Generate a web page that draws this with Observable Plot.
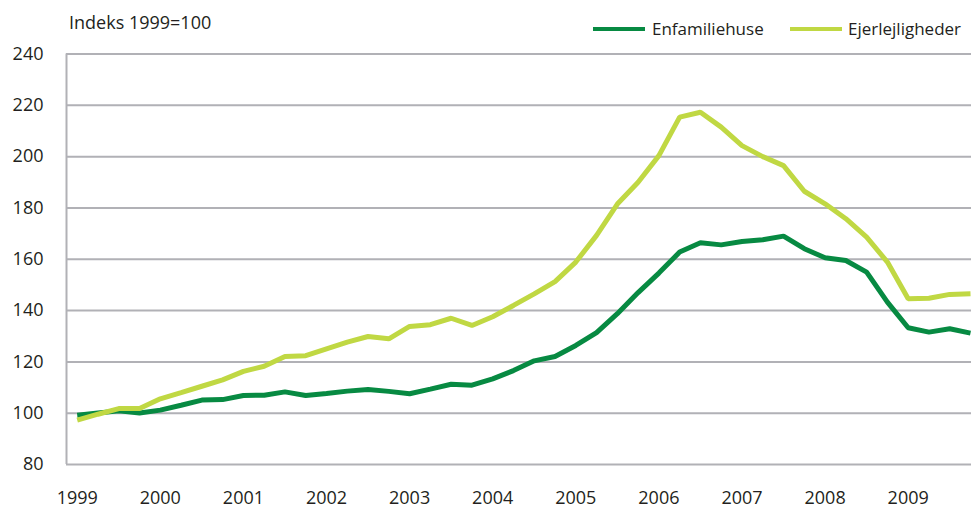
<!DOCTYPE html>
<html>
<head>
<meta charset="utf-8">
<script src="https://cdn.jsdelivr.net/npm/d3@7"></script>
<script src="https://cdn.jsdelivr.net/npm/@observablehq/plot@0.6"></script>
<style>
  body { margin: 0; background: #fff; }
  #wrap { position: relative; width: 971px; height: 509px; font-family: "Open Sans", sans-serif; color: #231f20; overflow: hidden; }
  #wrap svg { position: absolute; left: 0; top: 0; }
  .lbl { position: absolute; font-size: 18px; line-height: 20px; white-space: nowrap; }
  .leg { font-size: 17px; }
  .sw { position: absolute; height: 4px; }
</style>
</head>
<body>
<div id="wrap"></div>
<script>
// ---- data ----
const years = [1999, 2000, 2001, 2002, 2003, 2004, 2005, 2006, 2007, 2008, 2009];
const yTicks = [80, 100, 120, 140, 160, 180, 200, 220, 240];
const seriesNames = ["Enfamiliehuse", "Ejerlejligheder"];
const seriesColors = ["#078a42", "#c0d843"];
const unitLabel = "Indeks 1999=100";
// quarterly values, 1999 K1 .. 2009 K4
const enfamiliehuse = [
  99.2, 100.1, 100.9, 100.1,
  101.2, 103.1, 105.1, 105.3,
  106.9, 107.0, 108.3, 106.9,
  107.7, 108.6, 109.2, 108.5,
  107.6, 109.4, 111.3, 110.9,
  113.4, 116.6, 120.4, 122.1,
  126.4, 131.4, 138.8, 147.0,
  154.6, 162.8, 166.4, 165.6,
  166.9, 167.6, 169.0, 164.1,
  160.6, 159.5, 155.0, 143.3,
  133.3, 131.6, 132.9, 131.2
];
const ejerlejligheder = [
  97.3, 99.6, 101.8, 101.8,
  105.6, 108.0, 110.5, 113.0,
  116.3, 118.3, 122.1, 122.4,
  125.1, 127.7, 129.9, 129.0,
  133.8, 134.5, 137.0, 134.2,
  137.6, 142.0, 146.5, 151.3,
  158.9, 169.3, 181.5, 190.0,
  200.4, 215.4, 217.3, 211.5,
  204.3, 200.0, 196.5, 186.5,
  181.6, 175.8, 168.6, 158.9,
  144.6, 144.8, 146.3, 146.6
];

// ---- build table ----
const seriesValues = [enfamiliehuse, ejerlejligheder];
const data = [];
seriesNames.forEach((name, s) => {
  seriesValues[s].forEach((v, i) => data.push({ series: name, t: years[0] + i / 4, value: v }));
});

const x0 = 1998.871, x1 = 2009.762;
const grid = "#b1b1b6";

const chart = Plot.plot({
  width: 971,
  height: 509,
  marginTop: 53.5,
  marginBottom: 45,
  marginLeft: 66,
  marginRight: 0,
  style: { fontFamily: '"Open Sans", sans-serif', fontSize: "18px", color: "#231f20", background: "transparent", overflow: "visible" },
  x: { domain: [x0, x1], ticks: years, tickFormat: d => String(d), tickSize: 0, tickPadding: 27, label: null },
  y: { domain: [80, 240], ticks: yTicks, tickSize: 0, tickPadding: 23, label: null },
  color: { domain: seriesNames, range: seriesColors },
  marks: [
    Plot.ruleY(yTicks, { stroke: grid, strokeWidth: 2 }),
    Plot.ruleX([x0], { y1: 80, y2: 240, stroke: grid, strokeWidth: 2 }),
    Plot.line(data, { x: "t", y: "value", z: "series", stroke: "series", strokeWidth: 5, strokeLinecap: "butt", strokeLinejoin: "miter" })
  ]
});

const wrap = document.getElementById("wrap");
wrap.appendChild(chart);

// unit label
const u = document.createElement("div");
u.className = "lbl";
u.style.left = "69px"; u.style.top = "12px";
u.textContent = unitLabel;
wrap.appendChild(u);

// legend
const legendPos = [{ line: 593, text: 652 }, { line: 790, text: 848 }];
seriesNames.forEach((name, s) => {
  const sw = document.createElement("div");
  sw.className = "sw";
  sw.style.left = legendPos[s].line + "px";
  sw.style.width = "52px";
  sw.style.top = "27px";
  sw.style.background = seriesColors[s];
  wrap.appendChild(sw);
  const t = document.createElement("div");
  t.className = "lbl leg";
  t.style.left = legendPos[s].text + "px";
  t.style.top = "19px";
  t.textContent = name;
  wrap.appendChild(t);
});
</script>
</body>
</html>
